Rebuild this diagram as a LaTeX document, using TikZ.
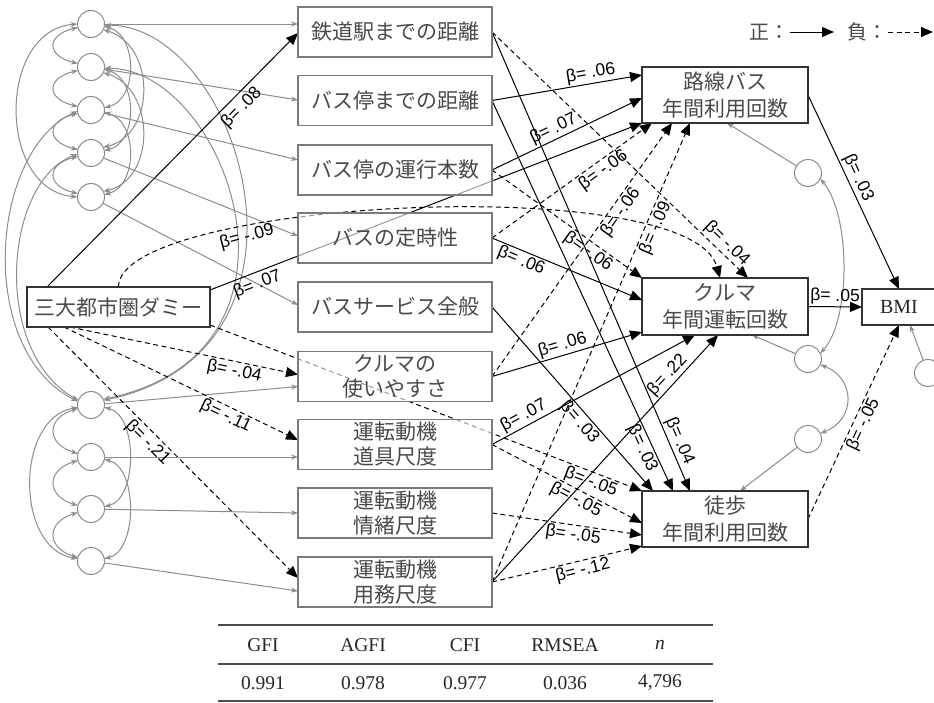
\documentclass[tikz,border=0pt]{standalone}
\usepackage{fontspec}
\setmainfont{Liberation Serif}
\newfontfamily\jpfont{Noto Sans CJK JP}
\newfontfamily\labfont{Liberation Sans}
\usetikzlibrary{arrows.meta}
\definecolor{boxgray}{HTML}{7A7A7A}
\definecolor{cgray}{HTML}{8C8C8C}
\definecolor{txtgray}{HTML}{4A4A4A}
\pgfdeclarelayer{bg}
\pgfsetlayers{bg,main}
\begin{document}
\begin{tikzpicture}[x=1pt,y=-1pt,
  every node/.style={inner sep=0pt, outer sep=0pt},
  lbox/.style={draw=boxgray, line width=1.3pt, fill=white, fill opacity=0.6, text opacity=1,
    minimum width=194pt, minimum height=50pt, align=center,
    font=\jpfont\fontsize{21}{25}\selectfont, text=txtgray},
  rbox/.style={draw=black!80, line width=1.2pt, fill=white, minimum width=166pt, minimum height=56pt,
    align=center, font=\jpfont\fontsize{21}{27}\selectfont, text=txtgray},
  err/.style={circle, draw=cgray, line width=1pt, minimum size=27pt},
  pa/.style={draw=black, line width=1pt, -{Triangle[length=12pt,width=10pt]}},
  na/.style={pa, dash pattern=on 5pt off 3.5pt},
  ga/.style={draw=cgray, line width=1pt, -{Stealth[length=7pt,width=5pt]}},
  gb/.style={draw=cgray, line width=1pt, {Stealth[length=7pt,width=5pt]}-{Stealth[length=7pt,width=5pt]}},
  lab/.style={font=\labfont\fontsize{17.5}{18}\selectfont, sloped, inner sep=2pt, text=black},
  tab/.style={font=\fontsize{19.5}{20}\selectfont, text=black!85},
]
\useasboundingbox (0,0) rectangle (934,702);

% ---------- nodes ----------
\node[lbox] (b1) at (395,32) {鉄道駅までの距離};
\node[lbox] (b2) at (395,100.5) {バス停までの距離};
\node[lbox] (b3) at (395,170) {バス停の運行本数};
\node[lbox] (b4) at (395,238) {バスの定時性};
\node[lbox] (b5) at (395,307) {バスサービス全般};
\node[lbox] (b6) at (395,376.5) {クルマの\\使いやすさ};
\node[lbox] (b7) at (395,444.5) {運転動機\\道具尺度};
\node[lbox] (b8) at (395,513) {運転動機\\情緒尺度};
\node[lbox] (b9) at (395,582) {運転動機\\用務尺度};

\node[rbox] (r1) at (725,95) {路線バス\\年間利用回数};
\node[rbox, minimum height=57pt] (r2) at (725,306.5) {クルマ\\年間運転回数};
\node[rbox] (r3) at (725,519) {徒歩\\年間利用回数};
\node[draw=black!80, line width=1.2pt, fill=white, minimum width=74pt, minimum height=36pt,
  font=\fontsize{20}{20}\selectfont, text=black!85] (bmi) at (899,307) {BMI};

\node[draw=black!80, line width=1.2pt, fill=white, minimum width=183pt, minimum height=40pt,
  font=\jpfont\fontsize{21}{21}\selectfont, text=txtgray] (dum) at (118.5,307) {三大都市圏ダミー};

\node[err] (c1) at (91,24) {};
\node[err] (c2) at (91,67) {};
\node[err] (c3) at (91,110) {};
\node[err] (c4) at (91,153) {};
\node[err] (c5) at (91,197) {};
\node[err] (d1) at (91,405) {};
\node[err] (d2) at (91,457) {};
\node[err] (d3) at (91,509) {};
\node[err] (d4) at (91,561) {};
\node[err] (e1) at (808,173) {};
\node[err] (e2) at (808,359) {};
\node[err] (e3) at (808,439) {};
\node[err] (e4) at (928,373) {};

% legend
\node[font=\jpfont\fontsize{20}{20}\selectfont, text=txtgray] (lg1) at (769,32) {正：};
\node[font=\jpfont\fontsize{20}{20}\selectfont, text=txtgray] (lg2) at (867,32) {負：};
\coordinate (la) at (790,32);
\coordinate (lb) at (834,32);
\coordinate (lc) at (888,32);
\coordinate (ld) at (933,32);

% table
\coordinate (t1l) at (218,625); \coordinate (t1r) at (713,625);
\coordinate (t2l) at (218,664); \coordinate (t2r) at (713,664);
\coordinate (t3l) at (218,701); \coordinate (t3r) at (713,701);
\node[tab] (h1) at (263,645) {GFI};
\node[tab] (h2) at (363,645) {AGFI};
\node[tab] (h3) at (465,645) {CFI};
\node[tab] (h4) at (565,645) {RMSEA};
\node[tab] (h5) at (660,645) {\itshape n};
\node[tab] (v1) at (263,683) {0.991};
\node[tab] (v2) at (363,683) {0.978};
\node[tab] (v3) at (465,683) {0.977};
\node[tab] (v4) at (565,683) {0.036};
\node[tab] (v5) at (660,683) {4,796};

\begin{pgfonlayer}{bg}
% ----- latent circles to boxes -----
\draw[ga] (c1) -- ([yshift=8pt]b1.west);
\draw[ga] (c2) -- ([yshift=0.5pt]b2.west);
\draw[ga] (c3) -- ([yshift=10pt]b3.west);
\draw[ga] (c4) -- ([yshift=2pt]b4.west);
\draw[ga] (c5) -- ([yshift=2pt]b5.west);
\draw[ga] (d1) -- ([yshift=-10pt]b6.west);
\draw[ga] (d2) -- ([yshift=-12.5pt]b7.west);
\draw[ga] (d3) -- (b8.west);
\draw[ga] (d4) -- ([yshift=-9pt]b9.west);
\draw[ga] (e1) -- ([xshift=2pt]r1.south);
\draw[ga] (e2) -- ([xshift=27pt]r2.south);
\draw[ga] (e3) -- ([xshift=15pt]r3.north);
\draw[ga] (e4) -- ([xshift=11pt]bmi.south);

% ----- correlations, top group -----
\draw[gb] (c1.195) .. controls (46,35) and (46,56) .. (c2.165);
\draw[gb] (c2.195) .. controls (46,78) and (46,99) .. (c3.165);
\draw[gb] (c3.195) .. controls (46,121) and (46,142) .. (c4.165);
\draw[gb] (c4.195) .. controls (46,164) and (46,186) .. (c5.165);
\draw[gb] (c1.west) .. controls (-3,30) and (-3,190) .. (c5.west);
\draw[gb] (c1.-10) .. controls (138,35) and (138,100) .. (c3.10);
\draw[gb] (c2.-10) .. controls (138,78) and (138,143) .. (c4.10);
\draw[gb] (c3.-10) .. controls (138,121) and (138,186) .. (c5.10);
\draw[gb] (c1.-25) .. controls (156,45) and (156,135) .. (c4.25);
\draw[gb] (c2.-25) .. controls (156,88) and (156,180) .. (c5.25);
% top group to d1
\draw[gb] (c1.-5) .. controls (240,25) and (340,350) .. (d1.20);
\draw[gb] (c2.-5) .. controls (226,68) and (330,352) .. (d1.25);
\draw[gb] (c3.185) .. controls (-10,150) and (-25,350) .. (d1.165);
\draw[gb] (c4.185) .. controls (5,180) and (-10,350) .. (d1.160);
% bottom group
\draw[gb] (d1.195) .. controls (46,418) and (46,444) .. (d2.165);
\draw[gb] (d2.195) .. controls (46,470) and (46,496) .. (d3.165);
\draw[gb] (d3.195) .. controls (46,522) and (46,548) .. (d4.165);
\draw[gb] (d1.190) .. controls (15,418) and (15,549) .. (d4.170);
\draw[gb] (d1.-10) .. controls (138,415) and (138,499) .. (d3.10);
\draw[gb] (d2.-10) .. controls (138,467) and (138,551) .. (d4.10);
% right group
\draw[gb] (e1.-25) .. controls (851,215) and (851,320) .. (e2.25);
\draw[gb] (e2.-25) .. controls (856,378) and (856,420) .. (e3.25);

% ----- paths from dummy -----
\draw[pa] ([xshift=20pt]dum.north west) -- ([yshift=-1pt]b1.west) node[lab,pos=.74,below,inner sep=4.5pt] (l1) {β= .08};
\draw[pa] ([yshift=-3pt]dum.north east) -- (r1.south west) node[lab,pos=.1,below,inner sep=4pt] (l2) {β= .07};
\draw[na] (dum.north) .. controls (118,200) and (690,170) .. ([xshift=78pt]r2.north west);
\node[font=\labfont\fontsize{17.5}{18}\selectfont, rotate=15] (l3) at (247,237) {β= -.09};
\draw[na] ([xshift=43pt]dum.south west) -- ([yshift=2pt]b6.west) node[lab,pos=.73,below] (l4) {β= -.04};
\draw[na] ([xshift=37pt]dum.south west) -- ([yshift=4.5pt]b7.west) node[lab,pos=.71,below] (l5) {β= -.11};
\draw[na] ([xshift=21pt]dum.south west) -- ([yshift=4pt]b9.west) node[lab,pos=.43,below,inner sep=3pt] (l6) {β= -.21};
\draw[na] ([yshift=2pt]dum.south east) -- (r3.north west) node[lab,pos=.89,below] (l7) {β= -.05};

% ----- to bus -----
\draw[pa] (b2.east) -- ([yshift=-8pt]r1.north west) node[lab,pos=.67,above] (l8) {β= .06};
\draw[pa] (b3.east) -- ([yshift=-3pt]r1.west) node[lab,pos=.44,above] (l9) {β= .07};
\draw[na] (b4.east) -- ([xshift=10pt]r1.south west) node[lab,pos=.66,below] (l10) {β= -.06};
\draw[na] (b6.east) -- ([xshift=30pt]r1.south west) node[lab,pos=.67,below] (l11) {β= -.06};
\draw[na] (b9.east) -- ([xshift=48pt]r1.south west) node[lab,pos=.78,below] (l12) {β= -.09};
% ----- to car -----
\draw[na] (b1.east) -- ([xshift=106pt]r2.north west) node[lab,pos=.89,above] (l13) {β= -.04};
\draw[na] (b3.east) -- (r2.north west) node[lab,pos=.68,below] (l14) {β= -.06};
\draw[pa] (b4.east) -- ([yshift=6.5pt]r2.west) node[lab,pos=.22,below] (l15) {β= .06};
\draw[pa] (b6.east) -- ([yshift=3pt]r2.south west) node[lab,pos=.49,above] (l16) {β= .06};
\draw[pa] (b7.east) -- ([xshift=53pt]r2.south west) node[lab,pos=.18,above] (l17) {β= .07};
\draw[pa] (b9.east) -- ([xshift=76pt]r2.south west) node[lab,pos=.81,above] (l18) {β= .22};
% ----- to walking -----
\draw[pa] (b5.east) -- ([xshift=11pt]r3.north west) node[lab,pos=.59,below] (l19) {β= .03};
\draw[pa] (b2.east) -- ([xshift=31pt]r3.north west) node[lab,pos=.88,below] (l20) {β= .03};
\draw[pa] (b1.east) -- ([xshift=48pt]r3.north west) node[lab,pos=.9,above] (l21) {β= .04};
\draw[na] (b7.east) -- ([yshift=-4pt]r3.west) node[lab,pos=.59,below] (l22) {β= -.05};
\draw[na] (b8.east) -- ([yshift=-16pt]r3.west) node[lab,pos=.55,below] (l23) {β= -.05};
\draw[na] (b9.east) -- ([yshift=1pt]r3.south west) node[lab,pos=.59,below] (l24) {β= -.12};
% ----- to BMI -----
\draw[pa] (r1.east) -- (bmi.north) node[lab,pos=.45,above] (l25) {β= .03};
\draw[pa] (r2.east) -- (bmi.west) node[lab,pos=.5,above] (l26) {β= .05};
\draw[na] (r3.east) -- (bmi.south) node[lab,pos=.51,below] (l27) {β= -.05};
\end{pgfonlayer}

% legend arrows
\draw[pa] (la) -- (lb);
\draw[na] (lc) -- (ld);
% table rules
\draw[line width=1.2pt, black!70] (t1l) -- (t1r);
\draw[line width=1.2pt, black!70] (t2l) -- (t2r);
\draw[line width=1.2pt, black!70] (t3l) -- (t3r);
\end{tikzpicture}
\end{document}
